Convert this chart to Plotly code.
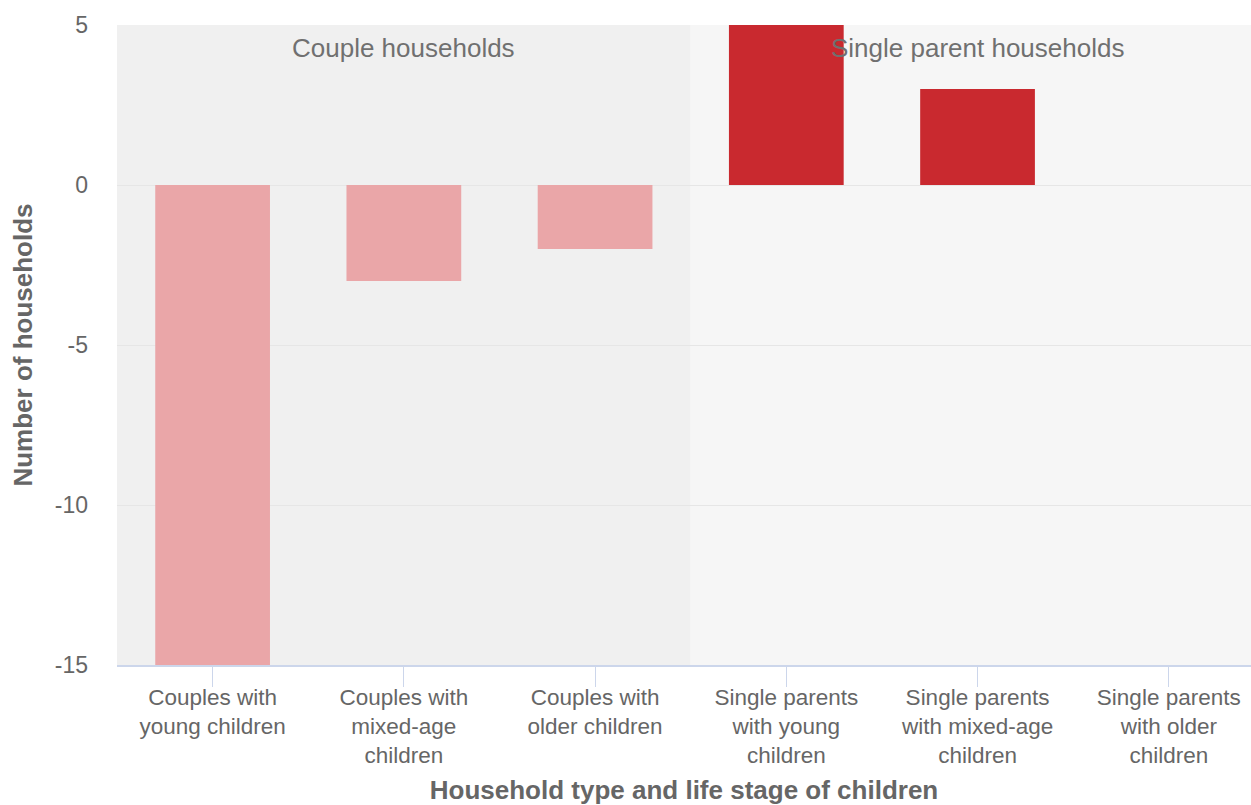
import plotly.graph_objects as go

# Change in number of households by type and life stage of children
categories = [
    "Couples with<br>young children",
    "Couples with<br>mixed-age<br>children",
    "Couples with<br>older children",
    "Single parents<br>with young<br>children",
    "Single parents<br>with mixed-age<br>children",
    "Single parents<br>with older<br>children",
]
values = [-15, -3, -2, 5, 3, 0]
groups = ["Couple households", "Single parent households"]
group_spans = [(-0.5, 2.5), (2.5, 5.5)]
y_ticks = [-15, -10, -5, 0, 5]
y_tick_labels = ["-15", "-10", "-5", "0", "5"]

FONT = "Liberation Sans, Arial, sans-serif"
GRAY = "#666666"
bar_colors = ["#eaa6a8"] * 3 + ["#c9292f"] * 3
band_colors = ["#f0f0f0", "#f6f6f6"]

fig = go.Figure(
    go.Bar(
        x=list(range(len(categories))),
        y=values,
        width=0.6,
        marker=dict(color=bar_colors, line=dict(width=0)),
        hoverinfo="skip",
    )
)

# Shaded bands behind each household group, with a label at the top
for (x0, x1), color, name in zip(group_spans, band_colors, groups):
    fig.add_shape(
        type="rect", xref="x", yref="paper",
        x0=x0, x1=x1 + (0.5 if x1 == 5.5 else 0), y0=0, y1=1,
        fillcolor=color, line=dict(width=0), layer="below",
    )
    fig.add_annotation(
        x=(x0 + x1) / 2, xref="x", y=0.964, yref="paper",
        text=name, showarrow=False, yanchor="middle",
        font=dict(family=FONT, size=26, color="#707070"),
    )

fig.update_layout(
    width=1251, height=805,
    margin=dict(l=117, r=0, t=25, b=140),
    paper_bgcolor="white", plot_bgcolor="white",
    showlegend=False,
    bargap=0.4,
    font=dict(family=FONT, color=GRAY),
)

fig.update_xaxes(
    range=[-0.5, 5.43],
    tickvals=list(range(len(categories))),
    ticktext=categories,
    ticks="outside", ticklen=20, tickcolor="#ccd6eb", tickwidth=1,
    ticklabelstandoff=-9,
    showline=True, linecolor="#ccd6eb", linewidth=1.5,
    showgrid=False, zeroline=False,
    tickfont=dict(family=FONT, size=22.5, color=GRAY),
    title=dict(text="<b>Household type and life stage of children</b>",
               font=dict(family=FONT, size=26, color=GRAY), standoff=15),
    automargin=False,
)

fig.update_yaxes(
    range=[-15, 5],
    tickvals=y_ticks,
    ticktext=y_tick_labels,
    showgrid=True, gridcolor="#e6e6e6", gridwidth=1,
    zeroline=True, zerolinecolor="#e6e6e6", zerolinewidth=1,
    showline=False, ticks="",
    ticklabelstandoff=28,
    tickfont=dict(family=FONT, size=23, color=GRAY),
    title=dict(text="<b>Number of households</b>",
               font=dict(family=FONT, size=26, color=GRAY), standoff=14),
    automargin=False,
)

fig.write_html("out.html")
